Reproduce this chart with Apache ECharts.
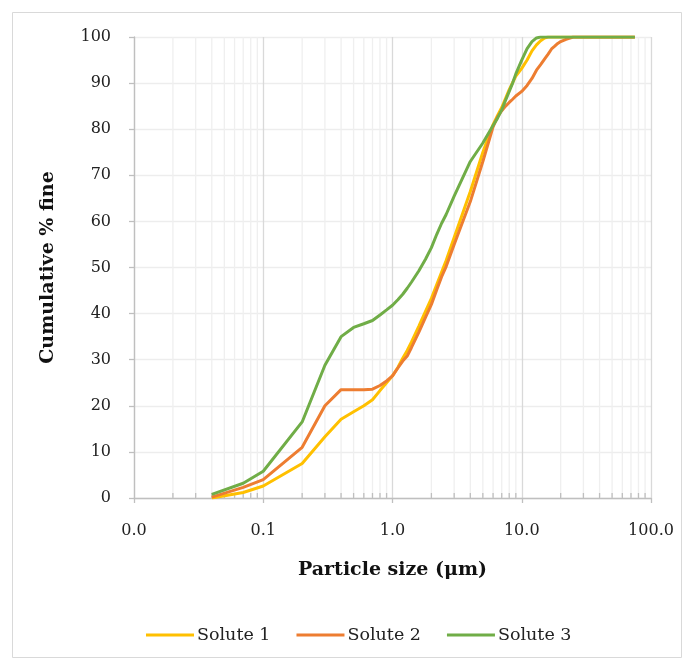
<!DOCTYPE html>
<html>
<head>
<meta charset="utf-8">
<script src="https://cdn.jsdelivr.net/npm/echarts@6/dist/echarts.min.js"></script>
<style>html,body{margin:0;padding:0;background:#fff;}#c{width:689px;height:665px;}</style>
</head>
<body>
<div id="c"></div>
<script>
// Particle sizes (µm)
const sizes = [0.04,0.07,0.1,0.2,0.3,0.4,0.5,0.6,0.7,0.8,0.9,1.0,1.1,1.2,1.3,1.4,1.6,1.8,2.0,2.2,2.4,2.6,3,4,5,6,6.5,7,7.5,8,8.5,9,10,11,12,13,14,15,16,17,18,19,20,22,25,28,32,36,38,40,45,50,53,56,63,71,75];
const solute1 = [0,1.2,2.6,7.5,13.3,17.1,18.7,20.0,21.3,23.3,25.0,26.5,28.3,30.3,32.0,33.8,37.3,40.5,43.3,46.3,49.0,51.5,56.5,66.5,75.0,81.0,83.0,84.7,86.7,88.6,90.1,91.5,93.2,95.0,97.0,98.3,99.2,99.8,100,100,100,100,100,100,100,100,100,100,100,100,100,100,100,100,100,100,100];
const solute2 = [0.2,2.3,4.0,11.0,20.0,23.5,23.5,23.5,23.6,24.4,25.4,26.5,28.2,29.7,30.8,32.6,36.0,39.2,42.0,45.2,48.0,50.2,55.0,64.3,73.0,80.5,82.7,84.0,85.0,85.8,86.5,87.2,88.2,89.5,91.0,92.8,94.0,95.2,96.3,97.4,98.0,98.6,99.0,99.5,100,100,100,100,100,100,100,100,100,100,100,100,100];
const solute3 = [0.8,3.2,5.8,16.5,28.8,35.0,37.0,37.8,38.5,39.7,40.8,41.8,43.0,44.2,45.5,46.8,49.3,51.8,54.3,57.2,59.6,61.5,65.5,73.0,77.0,80.8,82.4,84.2,86.3,88.2,90.0,92.0,95.0,97.5,99.0,99.8,100,100,100,100,100,100,100,100,100,100,100,100,100,100,100,100,100,100,100,100,100];
const seriesNames = ['Solute 1','Solute 2','Solute 3'];
const seriesColors = ['#FFC000','#ED7D31','#70AD47'];
const yTicks = [0,10,20,30,40,50,60,70,80,90,100];
const xMajor = [0.01,0.1,1,10,100];
const minorMult = [2,3,4,5,6,7,8,9];

const minorX = [];
for (let i = 0; i < xMajor.length - 1; i++) {
  for (const m of minorMult) minorX.push([+(xMajor[i]*m).toPrecision(3), 0]);
}

const font = 'DejaVu Serif';
const chart = echarts.init(document.getElementById('c'), null, {renderer:'canvas'});

const lineSeries = [solute1, solute2, solute3].map((vals, i) => ({
  name: seriesNames[i],
  type: 'line',
  data: sizes.map((s, j) => [s, vals[j]]),
  showSymbol: false,
  symbol: 'none',
  z: 5,
  lineStyle: {color: seriesColors[i], width: 3},
  itemStyle: {color: seriesColors[i]}
}));

chart.setOption({
  animation: false,
  backgroundColor: '#fff',
  graphic: [{
    type: 'rect', left: 10, top: 10,
    shape: {width: 669, height: 645},
    style: {fill: 'none', stroke: '#d9d9d9', lineWidth: 1}
  }],
  grid: {left: 134, right: 38, top: 37, bottom: 167, containLabel: false},
  legend: {
    data: seriesNames.map(n => ({name: n, icon: 'rect'})),
    left: 141, top: 621,
    itemWidth: 48, itemHeight: 3, itemGap: 26,
    textStyle: {fontFamily: font, fontSize: 17.5, color: '#222', padding: [0, 0, 0, -2]}
  },
  xAxis: {
    type: 'log', logBase: 10, min: 0.01, max: 100,
    name: 'Particle size (\u03bcm)', nameLocation: 'middle', nameGap: 63,
    nameTextStyle: {fontFamily: font, fontSize: 19, fontWeight: 'bold', color: '#111'},
    axisLine: {show: true, lineStyle: {color: '#bfbfbf', width: 1.3}},
    axisTick: {show: true, inside: false, length: 5, lineStyle: {color: '#bfbfbf', width: 1.3}},
    axisLabel: {margin: 25, fontFamily: font, fontSize: 16, color: '#222',
      formatter: v => (+v).toFixed(1)},
    splitLine: {show: true, lineStyle: {color: '#d9d9d9', width: 1.3}},
    minorTick: {show: false}
  },
  yAxis: {
    type: 'value', min: 0, max: 100, interval: 10,
    name: 'Cumulative % fine', nameLocation: 'middle', nameGap: 76, nameRotate: 90,
    nameTextStyle: {fontFamily: font, fontSize: 19, fontWeight: 'bold', color: '#111'},
    axisLine: {show: true, lineStyle: {color: '#bfbfbf', width: 1.3}},
    axisTick: {show: true, inside: false, length: 5, lineStyle: {color: '#bfbfbf', width: 1.3}},
    axisLabel: {margin: 23, fontFamily: font, fontSize: 16, color: '#222'},
    splitLine: {show: true, lineStyle: {color: '#ededed', width: 1.3}}
  },
  series: [{
    type: 'custom',
    name: 'minor',
    silent: true,
    z: 1,
    data: minorX,
    encode: {x: 0, y: 1},
    renderItem: (params, api) => {
      const x = api.value(0);
      const p0 = api.coord([x, 0]);
      const p1 = api.coord([x, 100]);
      return {type: 'group', children: [
        {type: 'line', shape: {x1: p0[0], y1: p0[1], x2: p1[0], y2: p1[1]}, style: {stroke: '#efefef', lineWidth: 1.3}},
        {type: 'line', shape: {x1: p0[0], y1: p0[1], x2: p0[0], y2: p0[1] - 5}, style: {stroke: '#bfbfbf', lineWidth: 1.3}}
      ]};
    }
  }].concat(lineSeries)
});
</script>
</body>
</html>
